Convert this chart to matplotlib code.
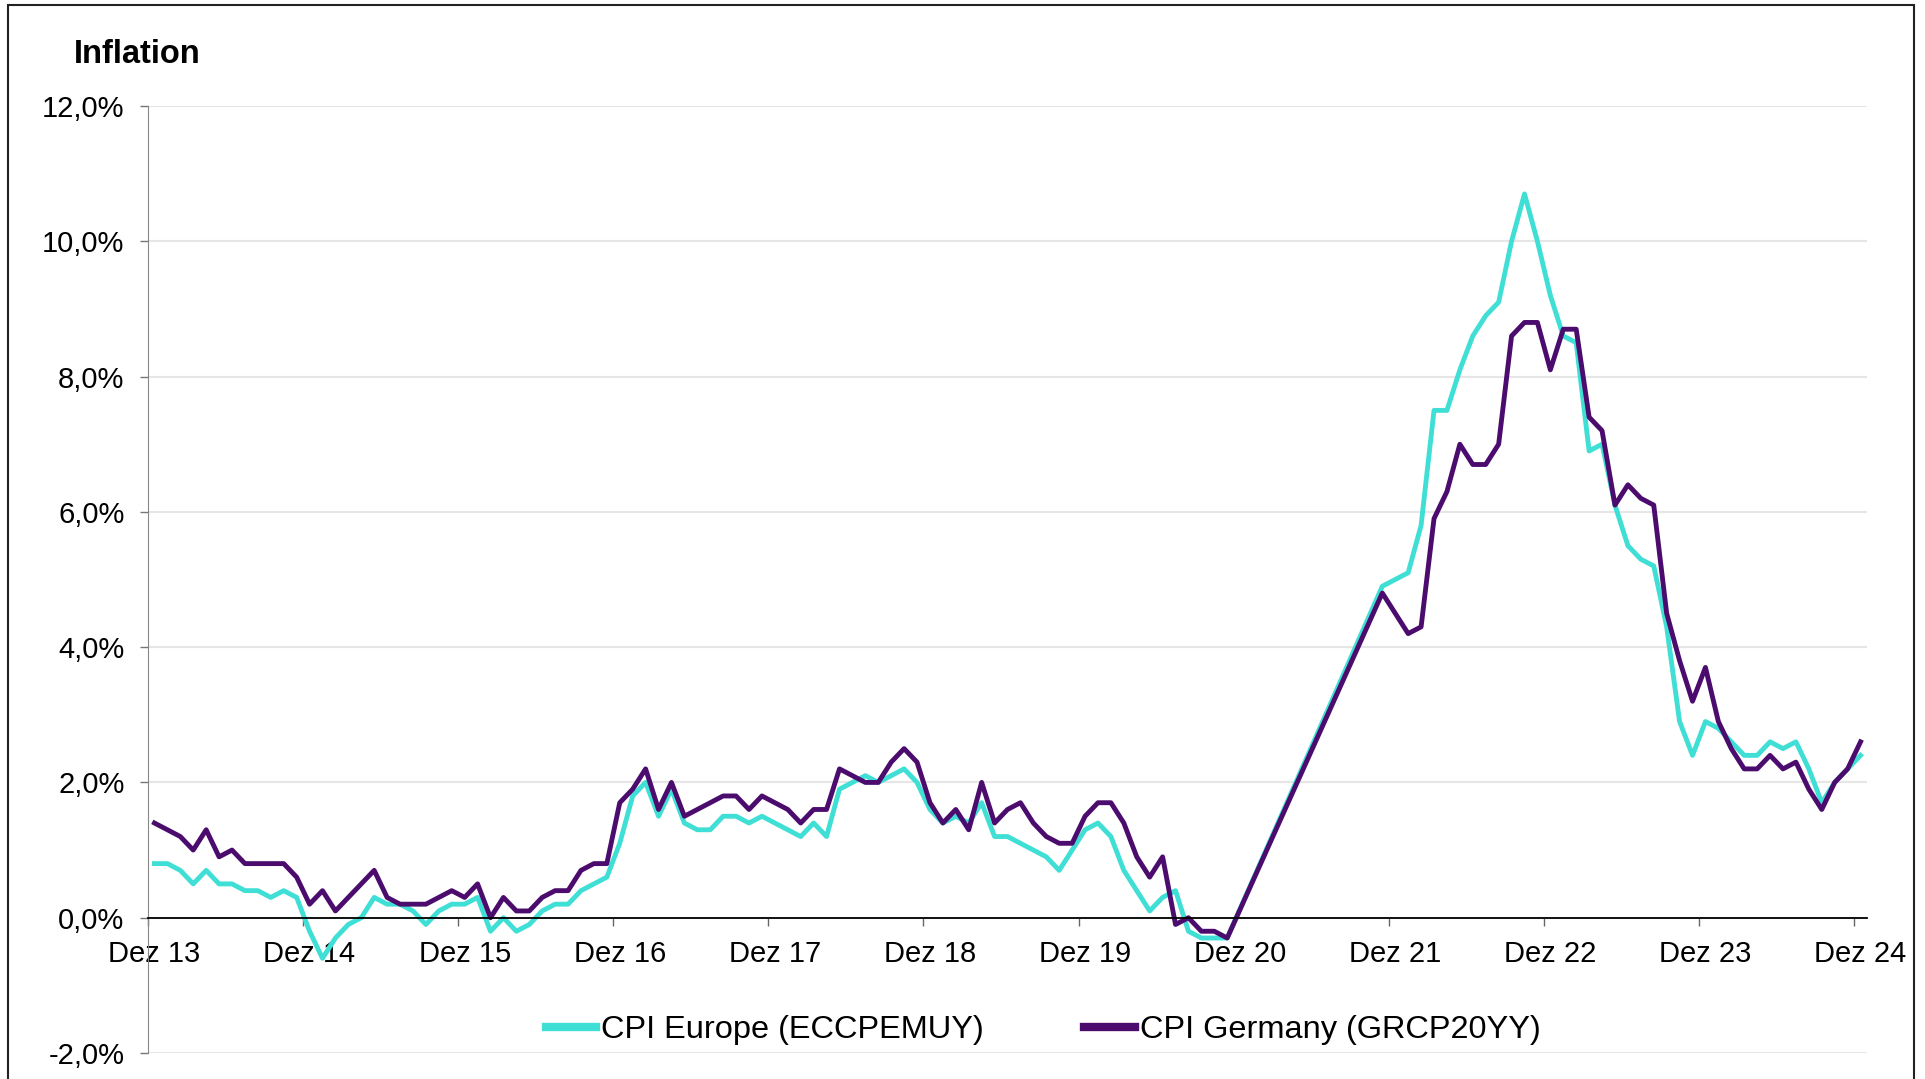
import pandas as pd
import matplotlib.pyplot as plt
from matplotlib.patches import Rectangle
from matplotlib.lines import Line2D

plt.rcParams['font.family'] = ['Liberation Sans', 'DejaVu Sans']

# monthly readings, Dec 2013 - Nov 2020 and Nov 2021 - Dec 2024 (gap in between)
months_1 = pd.period_range('2013-12', '2020-11', freq='M')
months_2 = pd.period_range('2021-11', '2024-12', freq='M')

cpi_europe_1 = [0.8, 0.8, 0.7, 0.5, 0.7, 0.5, 0.5, 0.4, 0.4, 0.3, 0.4, 0.3,
                -0.2, -0.6, -0.3, -0.1, 0.0, 0.3, 0.2, 0.2, 0.1, -0.1, 0.1, 0.2,
                0.2, 0.3, -0.2, 0.0, -0.2, -0.1, 0.1, 0.2, 0.2, 0.4, 0.5, 0.6,
                1.1, 1.8, 2.0, 1.5, 1.9, 1.4, 1.3, 1.3, 1.5, 1.5, 1.4, 1.5,
                1.4, 1.3, 1.2, 1.4, 1.2, 1.9, 2.0, 2.1, 2.0, 2.1, 2.2, 2.0,
                1.6, 1.4, 1.5, 1.4, 1.7, 1.2, 1.2, 1.1, 1.0, 0.9, 0.7, 1.0,
                1.3, 1.4, 1.2, 0.7, 0.4, 0.1, 0.3, 0.4, -0.2, -0.3, -0.3, -0.3]
cpi_germany_1 = [1.4, 1.3, 1.2, 1.0, 1.3, 0.9, 1.0, 0.8, 0.8, 0.8, 0.8, 0.6,
                 0.2, 0.4, 0.1, 0.3, 0.5, 0.7, 0.3, 0.2, 0.2, 0.2, 0.3, 0.4,
                 0.3, 0.5, 0.0, 0.3, 0.1, 0.1, 0.3, 0.4, 0.4, 0.7, 0.8, 0.8,
                 1.7, 1.9, 2.2, 1.6, 2.0, 1.5, 1.6, 1.7, 1.8, 1.8, 1.6, 1.8,
                 1.7, 1.6, 1.4, 1.6, 1.6, 2.2, 2.1, 2.0, 2.0, 2.3, 2.5, 2.3,
                 1.7, 1.4, 1.6, 1.3, 2.0, 1.4, 1.6, 1.7, 1.4, 1.2, 1.1, 1.1,
                 1.5, 1.7, 1.7, 1.4, 0.9, 0.6, 0.9, -0.1, 0.0, -0.2, -0.2, -0.3]
cpi_europe_2 = [4.9, 5.0, 5.1, 5.8, 7.5, 7.5, 8.1, 8.6, 8.9, 9.1, 10.0, 10.7,
                10.0, 9.2, 8.6, 8.5, 6.9, 7.0, 6.1, 5.5, 5.3, 5.2, 4.3, 2.9,
                2.4, 2.9, 2.8, 2.6, 2.4, 2.4, 2.6, 2.5, 2.6, 2.2, 1.7, 2.0,
                2.2, 2.4]
cpi_germany_2 = [4.8, 4.5, 4.2, 4.3, 5.9, 6.3, 7.0, 6.7, 6.7, 7.0, 8.6, 8.8,
                 8.8, 8.1, 8.7, 8.7, 7.4, 7.2, 6.1, 6.4, 6.2, 6.1, 4.5, 3.8,
                 3.2, 3.7, 2.9, 2.5, 2.2, 2.2, 2.4, 2.2, 2.3, 1.9, 1.6, 2.0,
                 2.2, 2.6]

tick_labels = ['Dez 13', 'Dez 14', 'Dez 15', 'Dez 16', 'Dez 17', 'Dez 18',
               'Dez 19', 'Dez 20', 'Dez 21', 'Dez 22', 'Dez 23', 'Dez 24']

cyan = '#40DFD5'
purple = '#4B0C6E'

start = pd.Period('2013-12', freq='M')
x = [(m - start).n for m in months_1] + [(m - start).n for m in months_2]
europe = cpi_europe_1 + cpi_europe_2
germany = cpi_germany_1 + cpi_germany_2

W, H = 1925, 1079
fig = plt.figure(figsize=(W / 100, H / 100), dpi=100)
ax = fig.add_axes([148 / W, 1 - 1053 / H, (1867 - 148) / W, (1053 - 106) / H])

ax.plot(x, europe, color=cyan, lw=3.5, solid_joinstyle='round')
ax.plot(x, germany, color=purple, lw=3.5, solid_joinstyle='round')

ax.set_xlim(-0.5, 132.5)
ax.set_ylim(-2, 12)

# y axis
yt = list(range(-2, 13, 2))
ax.set_yticks(yt, labels=[f'{v:.1f}'.replace('.', ',') + '%' for v in yt])
ax.yaxis.grid(True, color='#e6e6e6', lw=1.5)
ax.set_axisbelow(True)
ax.tick_params(axis='y', length=6, width=1, color='#777777', pad=11, labelsize=21)

# x axis on the zero line, ticks between categories
ax.spines['top'].set_visible(False)
ax.spines['right'].set_visible(False)
ax.spines['left'].set_color('#888888')
ax.spines['bottom'].set_position(('data', 0))
ax.spines['bottom'].set_color('black')
ax.spines['bottom'].set_linewidth(1.3)
ax.set_xticks([-0.5 + 12 * k for k in range(12)], labels=[''] * 12)
ax.set_xticks([12 * k for k in range(12)], labels=tick_labels, minor=True)
ax.tick_params(axis='x', which='major', length=6, width=1, color='#666666')
ax.tick_params(axis='x', which='minor', length=0, pad=16, labelsize=21)

fig.text(74 / W, 1 - 63 / H, 'Inflation', fontsize=23.5, fontweight='bold', va='baseline')

handles = [Line2D([], [], color=cyan, lw=6), Line2D([], [], color=purple, lw=6)]
fig.legend(handles, ['CPI Europe (ECCPEMUY)', 'CPI Germany (GRCP20YY)'],
           loc='center', bbox_to_anchor=(1043 / W, 1 - 1030 / H), ncol=2,
           frameon=False, fontsize=23.4, handlelength=1.55, handletextpad=0.15,
           columnspacing=3.1)

fig.add_artist(Rectangle((8 / W, -0.02), (1914 - 8) / W, 1.02 - 5 / H,
                         transform=fig.transFigure, fill=False, ec='#222222', lw=1.5))

fig.savefig('out.png', dpi=100)
